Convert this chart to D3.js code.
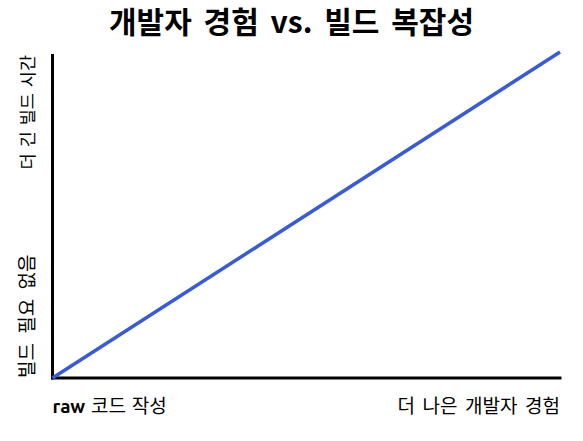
<!DOCTYPE html>
<html><head><meta charset="utf-8">
<script src="https://cdn.jsdelivr.net/npm/d3@7"></script>
<style>body{margin:0;background:#fff}svg{display:block}text{font-family:"Noto Sans CJK KR","Noto Sans",sans-serif;fill:#000}</style>
</head><body>
<script>
const title = "개발자 경험 vs. 빌드 복잡성";
const xLabels = ["raw 코드 작성", "더 나은 개발자 경험"];
const yLabels = ["빌드 필요 없음", "더 긴 빌드 시간"];
const xValues = [0, 1];
const yValues = [0, 1];

const W = 583, H = 441;
const m = {left: 52.5, right: 23, top: 52, bottom: 63};
const svg = d3.select("body").append("svg").attr("width", W).attr("height", H);
const x = d3.scaleLinear().domain([0, 1]).range([m.left, W - m.right]);
const y = d3.scaleLinear().domain([0, 1]).range([H - m.bottom, m.top]);

svg.append("text").attr("x", W/2).attr("y", 32.5).attr("text-anchor", "middle")
  .attr("font-size", 30).attr("font-weight", "bold").attr("word-spacing", 5).text(title);

// axes
svg.append("line").attr("x1", x(0)).attr("x2", x(0)).attr("y1", y(1) + 2).attr("y2", y(0) + 1.5)
  .attr("stroke", "#000").attr("stroke-width", 3);
svg.append("line").attr("x1", x(0) - 1.5).attr("x2", x(1) + 1.5).attr("y1", y(0)).attr("y2", y(0))
  .attr("stroke", "#000").attr("stroke-width", 3);

// line
const pts = xValues.map((v, i) => [x(v), y(yValues[i])]);
svg.append("path").attr("d", d3.line()(pts)).attr("fill", "none")
  .attr("stroke", "#3a5bd2").attr("stroke-width", 3.5);

// x labels
svg.append("text").attr("x", x(0)).attr("y", 413).attr("font-size", 19).attr("text-anchor", "start")
  .attr("word-spacing", 1.5)
  .html('<tspan font-weight="bold" font-family="Ubuntu, \'Open Sans\', sans-serif">raw</tspan> 코드 작성');
svg.append("text").attr("x", x(1)).attr("y", 413).attr("font-size", 19).attr("text-anchor", "end")
  .attr("word-spacing", 3.3).text(xLabels[1]);

// y labels
svg.append("text").attr("transform", `translate(34,${y(0)}) rotate(-90)`).attr("font-size", 19)
  .attr("word-spacing", 5).attr("text-anchor", "start").text(yLabels[0]);
svg.append("text").attr("transform", `translate(34,${y(1) + 3}) rotate(-90)`).attr("font-size", 17.5)
  .attr("word-spacing", 2).attr("text-anchor", "end").text(yLabels[1]);
</script>
</body></html>
